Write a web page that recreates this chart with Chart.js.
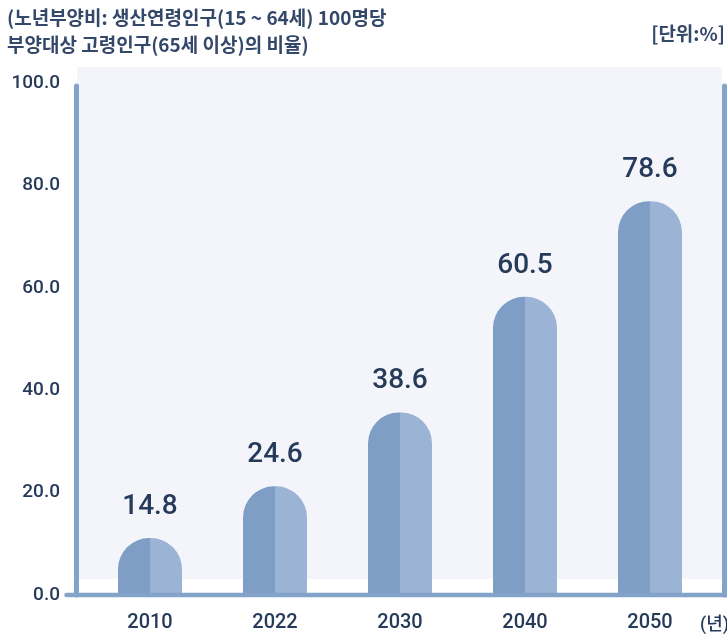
<!DOCTYPE html>
<html><head><meta charset="utf-8">
<script src="https://cdn.jsdelivr.net/npm/chart.js@4/dist/chart.umd.min.js"></script>
<style>html,body{margin:0;padding:0;background:#fff}#wrap{width:727px;height:634px}</style>
</head><body><div id="wrap"><canvas id="c" width="727" height="634"></canvas></div>
<script>
const categories = ['2010', '2022', '2030', '2040', '2050'];
const values = [14.8, 24.6, 38.6, 60.5, 78.6];
const yTickValues = [0, 20, 40, 60, 80, 100];
const titleLines = ['(노년부양비: 생산연령인구(15 ~ 64세) 100명당', '부양대상 고령인구(65세 이상)의 비율)'];
const unitLabel = '[단위:%]';
const xUnitLabel = '(년)';

const FONT = "'Noto Sans CJK KR', 'Noto Sans', sans-serif";
const NUMFONT = "Roboto, 'Noto Sans CJK KR', sans-serif";
const TEXT = '#263a5a';
const DARK = '#7e9ec6';
const LIGHT = '#9bb3d4';
const LINE = '#84a3c9';
const PANEL = '#f3f5fa';
const CAT_PCT = 0.512;

const decor = {
  id: 'decor',
  beforeDraw(chart) {
    const {ctx, chartArea: a} = chart;
    ctx.save();
    ctx.fillStyle = PANEL;
    ctx.fillRect(a.left - 10.5, a.top - 16, (a.right + 9.5) - (a.left - 10.5), (a.bottom - 16) - (a.top - 16));
    // title
    ctx.fillStyle = '#34486a';
    ctx.font = "bold 19px " + FONT;
    ctx.textBaseline = 'middle';
    ctx.textAlign = 'left';
    ctx.fillText(titleLines[0], 7, 18);
    ctx.fillText(titleLines[1], 7, 45);
    ctx.textAlign = 'right';
    ctx.fillText(unitLabel, 725, 34);
    ctx.font = "500 18px " + NUMFONT;
    ctx.fillStyle = TEXT;
    ctx.fillText(xUnitLabel, 729, 625);
    ctx.restore();
  },
  afterDatasetsDraw(chart) {
    const {ctx, chartArea: a} = chart;
    ctx.save();
    ctx.strokeStyle = LINE;
    ctx.lineCap = 'round';
    ctx.lineWidth = 5;
    ctx.beginPath();
    ctx.moveTo(a.left - 11, a.top + 3);
    ctx.lineTo(a.left - 11, a.bottom);
    ctx.moveTo(a.right + 12, a.top + 3);
    ctx.lineTo(a.right + 12, a.bottom);
    ctx.stroke();
    ctx.lineWidth = 4.5;
    ctx.beginPath();
    ctx.moveTo(a.left - 21, a.bottom);
    ctx.lineTo(a.right + 14, a.bottom);
    ctx.stroke();
    // value labels
    const meta = chart.getDatasetMeta(0);
    ctx.fillStyle = TEXT;
    ctx.font = "500 28px " + NUMFONT;
    ctx.textAlign = 'center';
    ctx.textBaseline = 'middle';
    meta.data.forEach((bar, i) => {
      ctx.fillText(values[i].toFixed(1), bar.x, bar.y - 31);
    });
    ctx.restore();
  }
};

new Chart(document.getElementById('c'), {
  type: 'bar',
  data: {
    labels: categories,
    datasets: [{
      data: values,
      yAxisID: 'y2',
      categoryPercentage: CAT_PCT,
      barPercentage: 1,
      borderSkipped: 'bottom',
      borderRadius: {topLeft: 31, topRight: 31, bottomLeft: 0, bottomRight: 0},
      backgroundColor: (c) => {
        const chart = c.chart;
        const xs = chart.scales && chart.scales.x;
        if (c.type !== 'data' || !xs || xs.right === undefined) return DARK;
        const cx = xs.getPixelForValue(c.dataIndex);
        const w = (xs.right - xs.left) / categories.length * CAT_PCT;
        const g = chart.ctx.createLinearGradient(cx - w / 2, 0, cx + w / 2, 0);
        g.addColorStop(0, DARK);
        g.addColorStop(0.5, DARK);
        g.addColorStop(0.5, LIGHT);
        g.addColorStop(1, LIGHT);
        return g;
      }
    }]
  },
  options: {
    responsive: false,
    animation: false,
    devicePixelRatio: 1,
    layout: {padding: {top: 83, right: 14.5, bottom: 0, left: 0}},
    plugins: {legend: {display: false}, tooltip: {enabled: false}, title: {display: false}},
    scales: {
      x: {
        grid: {display: false, drawTicks: false},
        border: {display: false},
        ticks: {color: TEXT, font: {family: NUMFONT, size: 20, weight: 500}, padding: 16},
        afterFit(s) { s.height = 37; }
      },
      y: {
        min: 0, max: 100,
        afterBuildTicks(s) { s.ticks = yTickValues.map(v => ({value: v})); },
        grid: {display: false, drawTicks: false},
        border: {display: false},
        ticks: {color: TEXT, font: {family: NUMFONT, size: 19, weight: 500}, padding: 27.5,
          callback: v => Number(v).toFixed(1)},
        afterFit(s) { s.width = 87.5; }
      },
      y2: {
        display: false,
        min: 4, max: 101
      }
    }
  },
  plugins: [decor]
});
</script></body></html>
